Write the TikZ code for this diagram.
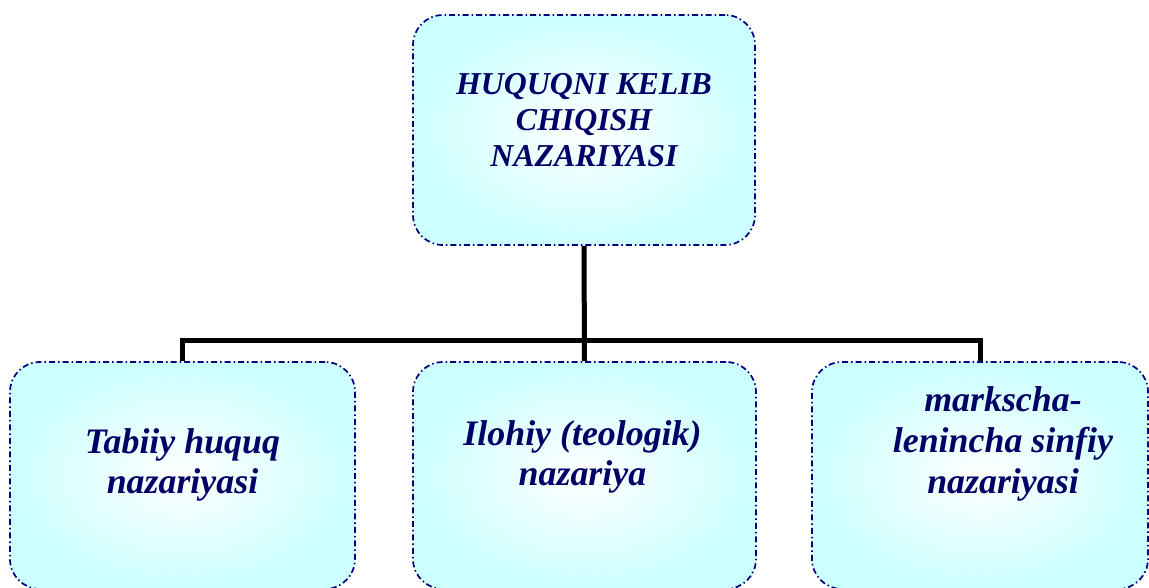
\documentclass[tikz,border=0pt]{standalone}
\usepackage{fontspec}
\setmainfont{Liberation Serif}
\usetikzlibrary{positioning}
\definecolor{boxnavy}{RGB}{0,0,128}
\definecolor{textnavy}{RGB}{0,0,102}
\definecolor{paleaqua}{RGB}{204,255,255}
\tikzset{
  theorybox/.style={draw=boxnavy, line width=1.7bp,
    dash pattern=on 6bp off 3bp on 1.5bp off 3bp,
    rounded corners=30bp, inner color=white, outer color=paleaqua,
    minimum height=227bp},
  theorytext/.style={text=textnavy, align=center,
    font=\fontsize{36}{41}\selectfont\bfseries\itshape},
  link/.style={line width=5bp}
}
\begin{document}
\begin{tikzpicture}[x=1bp, y=-1bp]
            \useasboundingbox (0,0) rectangle (1149,588);

            % Boxes
            \node[theorybox, minimum width=342bp, minimum height=230bp] (origin) at (584,130) {};
            \node[theorybox, minimum width=345bp] (natural) at (182.5,475.5) {};
            \node[theorybox, minimum width=343bp] (divine) at (584.5,475.5) {};
            \node[theorybox, minimum width=336bp] (marxist) at (980,475.5) {};

            % Connectors
            \coordinate (bus) at (584,340);
            \draw[link] (origin.south) -- (divine.north);
            \draw[link] (natural.north) |- (bus) -| (marxist.north);

            % Labels
            \node[theorytext, font=\fontsize{32}{36}\selectfont\bfseries\itshape] (originText) at (584,120) {HUQUQNI KELIB\\CHIQISH\\NAZARIYASI};
            \node[theorytext] (naturalText) at (182.5,465) {Tabiiy huquq\\nazariyasi};
            \node[theorytext] (divineText) at (582.5,457) {Ilohiy (teologik)\\nazariya};
            \node[theorytext] (marxistText) at (1003,444) {markscha-\\lenincha sinfiy\\nazariyasi};
\end{tikzpicture}
\end{document}
